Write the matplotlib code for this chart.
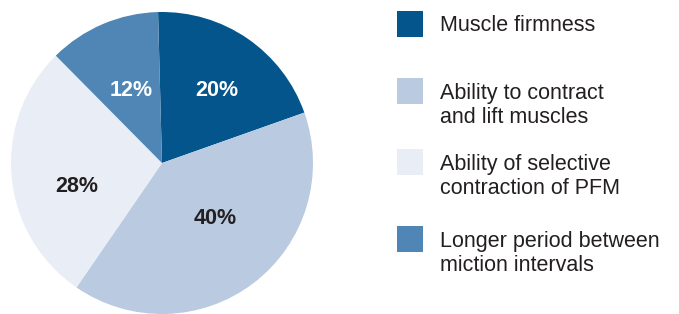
import matplotlib.pyplot as plt
from matplotlib.patches import Rectangle

plt.rcParams["font.family"] = ["Liberation Sans", "DejaVu Sans"]

# --- data ---
labels = ["Muscle firmness",
          "Ability to contract\nand lift muscles",
          "Ability of selective\ncontraction of PFM",
          "Longer period between\nmiction intervals"]
values = [20, 40, 28, 12]
colors = ["#03558c", "#b9cae1", "#e9eef6", "#4f86b5"]
pct_colors = ["white", "#231f20", "#231f20", "white"]

W, H = 679, 314
fig = plt.figure(figsize=(W / 100, H / 100), dpi=100)
ax = fig.add_axes([0, 0, 1, 1])

# pie centre / radius in pixel units (y up)
cx, cy, r = 162, H - 163, 151
wedges, texts, autotexts = ax.pie(
    values, colors=colors, startangle=91.5, counterclock=False,
    center=(cx, cy), radius=r, autopct="%d%%", pctdistance=0.6,
    wedgeprops=dict(linewidth=0), frame=True)
ax.set_xlim(0, W)
ax.set_ylim(0, H)
ax.set_aspect("equal")
ax.axis("off")

# label positions (pixels from top-left) nudged to match the original layout
label_pos = [(217, 90), (215, 218), (77, 187), (131, 90)]
for t, c, (x, y) in zip(autotexts, pct_colors, label_pos):
    t.set_position((x, H - y))
    t.set_color(c)
    t.set_fontsize(15.5)
    t.set_fontweight("bold")
    t.set_ha("center")
    t.set_va("center")

# legend drawn by hand
box_x, box = 397, 26
tops = [11, 78, 149, 226]
first_baselines = [31, 99, 170, 247]
for lab, col, top, base in zip(labels, colors, tops, first_baselines):
    ax.add_patch(Rectangle((box_x, H - top - box), box, box, facecolor=col,
                           edgecolor="none"))
    for i, line in enumerate(lab.split("\n")):
        ax.text(440, H - base - 24 * i, line, fontsize=15.5, color="#231f20",
                ha="left", va="baseline")

fig.savefig("out.png", dpi=100)
